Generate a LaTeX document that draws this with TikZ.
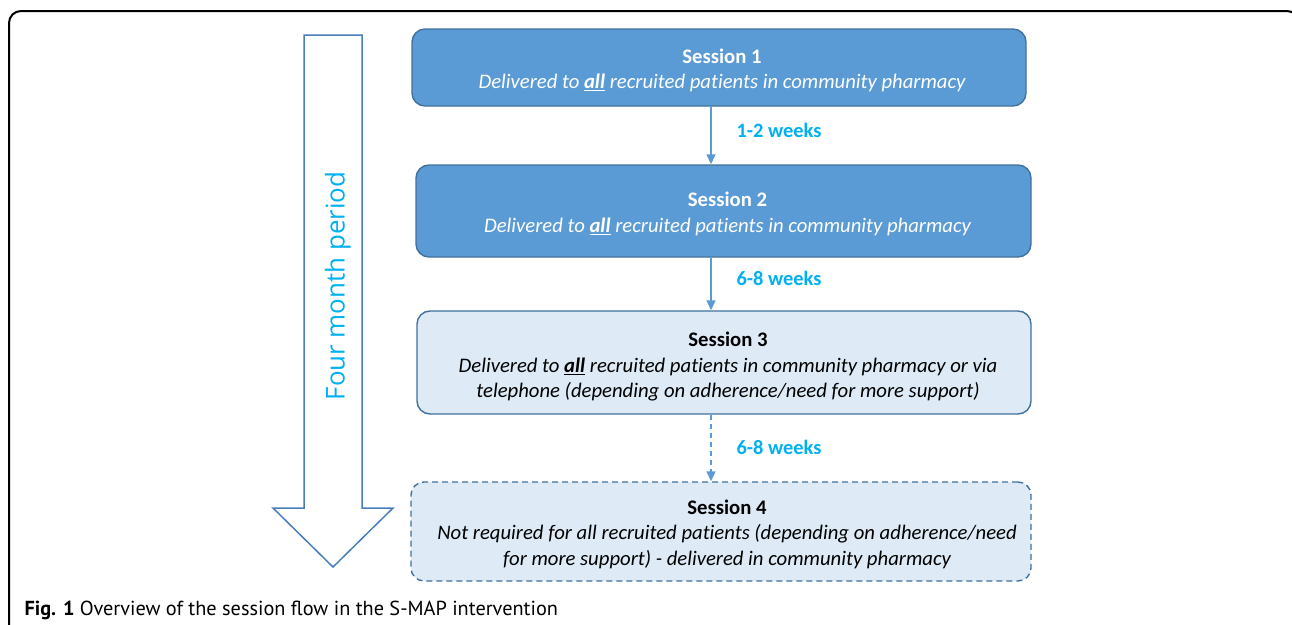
\documentclass[tikz,border=0pt]{standalone}
\usepackage{fontspec}
\setmainfont{Carlito}[Ligatures=NoCommon]
\newfontfamily\capfont{PT Sans}
\newfontfamily\sidefont{Open Sans}
\usetikzlibrary{arrows.meta}
\definecolor{boxdark}{HTML}{5B9BD5}
\definecolor{boxedge}{HTML}{41719C}
\definecolor{boxlight}{HTML}{DEEBF7}
\definecolor{labcol}{HTML}{00B0F0}
\definecolor{bigedge}{HTML}{4A7EBB}
\begin{document}
\begin{tikzpicture}[x=1pt,y=-1pt,
  sessbox/.style={rounded corners=13pt, draw=boxedge, line width=1.4pt, inner sep=0pt},
  darkbox/.style={sessbox, fill=boxdark},
  lightbox/.style={sessbox, fill=boxlight},
  boxtext/.style={align=center, inner sep=0pt, font=\fontsize{20.7}{25.5}\selectfont},
  flowarrow/.style={draw=boxdark, line width=1.4pt, -{Triangle[length=10pt,width=9pt]}},
  weeklabel/.style={anchor=west, text=labcol, font=\bfseries\fontsize{20.4}{24}\selectfont}]
\useasboundingbox (0,0) rectangle (1292,624);
\begin{scope}
  \clip (0,0) rectangle (1292,624);
  \draw[line width=2pt, rounded corners=12pt] (9,11) rectangle (1299,660);
\end{scope}

% big arrow
\draw[bigedge, line width=1.5pt, fill=white, line join=miter]
  (304,35) -- (362,35) -- (362,508) -- (393,508) -- (333,567) -- (273,508) -- (304,508) -- cycle;
\node[rotate=90, text=labcol, font=\sidefont\fontsize{25.9}{30}\selectfont] (period) at (338,286) {Four month period};

% session boxes
\node[darkbox, minimum width=614pt, minimum height=77pt] (b1) at (719,67.5) {};
\node[darkbox, minimum width=615pt, minimum height=92pt] (b2) at (723.5,211) {};
\node[lightbox, minimum width=614pt, minimum height=103pt] (b3) at (724,362.5) {};
\node[lightbox, dashed, dash pattern=on 6pt off 4pt, minimum width=620pt, minimum height=99pt] (b4) at (721,531.5) {};

\node[boxtext, text=white] (t1) at (722,70.5)
  {{\bfseries Session 1}\\{\itshape Delivered to \underline{\textbf{all}} recruited patients in community pharmacy}};
\node[boxtext, text=white] (t2) at (727.5,214)
  {{\bfseries Session 2}\\{\itshape Delivered to \underline{\textbf{all}} recruited patients in community pharmacy}};
\node[boxtext] (t3) at (728,367)
  {{\bfseries Session 3}\\{\itshape Delivered to \underline{\textbf{all}} recruited patients in community pharmacy or via}\\{\itshape telephone (depending on adherence/need for more support)}};
\node[boxtext] (t4) at (727,534)
  {{\bfseries Session 4}\\{\itshape Not required for all recruited patients (depending on adherence/need}\\{\itshape for more support) - delivered in community pharmacy}};

\coordinate (ax) at (711,0);
\draw[flowarrow] (b1.south -| ax) -- (b2.north -| ax);
\draw[flowarrow] (b2.south -| ax) -- (b3.north -| ax);
\draw[flowarrow, dash pattern=on 5pt off 4pt] (b3.south -| ax) -- (b4.north -| ax);

\node[weeklabel] (l1) at (733,130) {1-2 weeks};
\node[weeklabel] (l2) at (733,278) {6-8 weeks};
\node[weeklabel] (l3) at (733,447) {6-8 weeks};

\node[anchor=base west, font=\capfont\fontsize{20.3}{24}\selectfont] (cap) at (21,615)
  {\textbf{Fig. 1} Overview of the session flow in the S-MAP intervention};
\end{tikzpicture}
\end{document}
